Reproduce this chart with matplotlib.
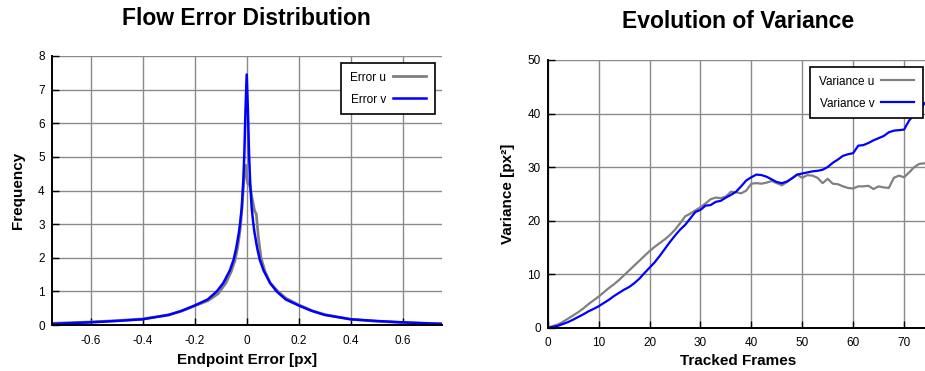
import matplotlib
matplotlib.use("Agg")
import matplotlib.pyplot as plt

plt.rcParams['font.family'] = ['Liberation Sans', 'DejaVu Sans']

# --- Flow error distribution (frequency vs endpoint error) ---
err_u_x = [-0.75, -0.6, -0.5, -0.4, -0.3, -0.25, -0.2, -0.15, -0.11, -0.08, -0.06, -0.045,
           -0.035, -0.025, -0.018, -0.012, -0.007, -0.004, 0.0, 0.004, 0.012, 0.02, 0.03,
           0.037, 0.045, 0.055, 0.07, 0.09, 0.12, 0.15, 0.2, 0.25, 0.3, 0.4, 0.5, 0.6, 0.75]
err_u_freq = [0.05, 0.09, 0.13, 0.18, 0.30, 0.42, 0.57, 0.72, 0.93, 1.25, 1.58, 1.92,
              2.3, 2.85, 3.5, 4.2, 4.6, 4.75, 4.45, 4.2, 4.15, 3.8, 3.4,
              3.3, 2.6, 2.0, 1.6, 1.25, 1.0, 0.8, 0.6, 0.43, 0.31, 0.17, 0.11, 0.07, 0.04]

err_v_x = [-0.75, -0.6, -0.5, -0.4, -0.3, -0.25, -0.2, -0.15, -0.115, -0.09, -0.065, -0.05,
           -0.04, -0.03, -0.025, -0.019, -0.013, -0.009, -0.005, 0.0,
           0.005, 0.009, 0.013, 0.019, 0.025, 0.03, 0.04, 0.05, 0.065, 0.09,
           0.115, 0.15, 0.2, 0.25, 0.3, 0.4, 0.5, 0.6, 0.75]
err_v_freq = [0.03, 0.08, 0.12, 0.17, 0.30, 0.42, 0.58, 0.76, 1.0, 1.25, 1.62, 1.95,
              2.3, 2.75, 3.05, 3.5, 4.3, 5.1, 6.3, 7.45,
              6.3, 5.1, 4.3, 3.5, 3.05, 2.75, 2.3, 1.95, 1.62, 1.25,
              1.0, 0.76, 0.58, 0.42, 0.30, 0.17, 0.12, 0.08, 0.03]

err_xticks = [-0.6, -0.4, -0.2, 0, 0.2, 0.4, 0.6]
err_xticklabels = ['-0.6', '-0.4', '-0.2', '0', '0.2', '0.4', '0.6']
err_yticks = [0, 1, 2, 3, 4, 5, 6, 7, 8]

# --- Variance evolution over tracked frames ---
frames = list(range(0, 76))
var_u = [0.0, 0.3, 0.6, 1.1, 1.7, 2.3, 2.9, 3.6, 4.4, 5.1,
         5.8, 6.6, 7.4, 8.1, 8.9, 9.8, 10.7, 11.6, 12.5, 13.4,
         14.3, 15.1, 15.8, 16.5, 17.3, 18.3, 19.5, 20.8, 21.3, 21.9,
         22.5, 23.2, 24.0, 24.3, 24.2, 24.5, 25.4, 25.3, 25.1, 25.6,
         26.9, 27.0, 26.9, 27.1, 27.4, 27.0, 26.6, 27.2, 27.9, 28.6,
         28.0, 28.5, 28.4, 28.0, 27.0, 27.8, 26.9, 26.8, 26.4, 26.1,
         26.0, 26.4, 26.4, 26.5, 25.9, 26.4, 26.2, 26.1, 28.0, 28.4,
         28.1, 29.0, 30.0, 30.6, 30.7, 30.9]
var_v = [0.0, 0.15, 0.35, 0.7, 1.05, 1.5, 2.0, 2.5, 3.05, 3.5,
         4.0, 4.6, 5.2, 5.9, 6.5, 7.1, 7.6, 8.3, 9.15, 10.2,
         11.2, 12.2, 13.4, 14.7, 16.0, 17.2, 18.3, 19.2, 20.4, 21.6,
         22.0, 22.8, 22.9, 23.5, 23.7, 24.3, 24.8, 25.4, 26.4, 27.5,
         28.1, 28.6, 28.5, 28.2, 27.7, 27.2, 27.0, 27.3, 27.9, 28.6,
         28.8, 29.0, 29.2, 29.3, 29.5, 30.0, 30.8, 31.4, 32.1, 32.4,
         32.6, 34.0, 34.1, 34.5, 35.0, 35.4, 35.8, 36.5, 36.8, 36.9,
         37.0, 38.7, 39.8, 40.5, 41.9, 42.6]

var_xticks = [0, 10, 20, 30, 40, 50, 60, 70]
var_yticks = [0, 10, 20, 30, 40, 50]

W, H = 925, 371
fig = plt.figure(figsize=(W / 100, H / 100), dpi=100)

GRID = '#8a8a8a'
GRAY = '#808080'
BLUE = '#0000ff'


def px_axes(l, t, r, b):
    return fig.add_axes([l / W, 1 - b / H, (r - l) / W, (b - t) / H])


def style(ax):
    for s in ('top', 'right'):
        ax.spines[s].set_visible(False)
    for s in ('left', 'bottom'):
        ax.spines[s].set_linewidth(1.4)
        ax.spines[s].set_color('black')
    ax.grid(True, color=GRID, linewidth=1.0)
    ax.set_axisbelow(True)
    ax.tick_params(direction='in', length=5, width=1, labelsize=8.5, colors='black')
    ax.tick_params(axis='x', pad=7)
    ax.tick_params(axis='y', pad=5)


def add_legend(ax, right_px, top_px):
    leg = ax.legend(loc='upper right', bbox_to_anchor=(right_px / W, 1 - top_px / H),
                    bbox_transform=fig.transFigure, borderaxespad=0, markerfirst=False,
                    fontsize=8.5, handlelength=2.8, labelspacing=0.85, borderpad=0.75,
                    handletextpad=0.6, fancybox=False, framealpha=1)
    leg.get_frame().set_edgecolor('black')
    leg.get_frame().set_linewidth(1.2)
    return leg


# Left panel
ax1 = px_axes(51.7, 56, 441.7, 325)
ax1.plot(err_u_x, err_u_freq, color=GRAY, lw=2.0, label='Error u')
ax1.plot(err_v_x, err_v_freq, color=BLUE, lw=1.8, label='Error v')
ax1.set_xlim(-0.75, 0.75)
ax1.set_ylim(0, 8)
ax1.set_xticks(err_xticks)
ax1.set_xticklabels(err_xticklabels)
ax1.set_yticks(err_yticks)
style(ax1)
add_legend(ax1, 435, 62.7)

fig.text(246.7 / W, 1 - 25 / H, 'Flow Error Distribution', ha='center', va='baseline',
         fontsize=16.5, fontweight='bold')
fig.text(246.7 / W, 1 - 364 / H, 'Endpoint Error [px]', ha='center', va='baseline',
         fontsize=11, fontweight='bold')
fig.text(18.5 / W, 1 - 190.5 / H, 'Frequency', ha='center', va='center', rotation=90,
         fontsize=11, fontweight='bold')

# Right panel
ax2 = px_axes(547.7, 60, 929.5, 327.7)
ax2.plot(frames, var_u, color=GRAY, lw=1.6, label='Variance u')
ax2.plot(frames, var_v, color=BLUE, lw=1.6, label='Variance v')
ax2.set_xlim(0, 75)
ax2.set_ylim(0, 50)
ax2.set_xticks(var_xticks)
ax2.set_yticks(var_yticks)
style(ax2)
add_legend(ax2, 923.3, 66.7)

fig.text(738 / W, 1 - 28.3 / H, 'Evolution of Variance', ha='center', va='baseline',
         fontsize=16.5, fontweight='bold')
fig.text(738 / W, 1 - 365 / H, 'Tracked Frames', ha='center', va='baseline',
         fontsize=11, fontweight='bold')
fig.text(508 / W, 1 - 194 / H, 'Variance [px²]', ha='center', va='center',
         rotation=90, fontsize=11, fontweight='bold')

fig.savefig('out.png', dpi=100)
